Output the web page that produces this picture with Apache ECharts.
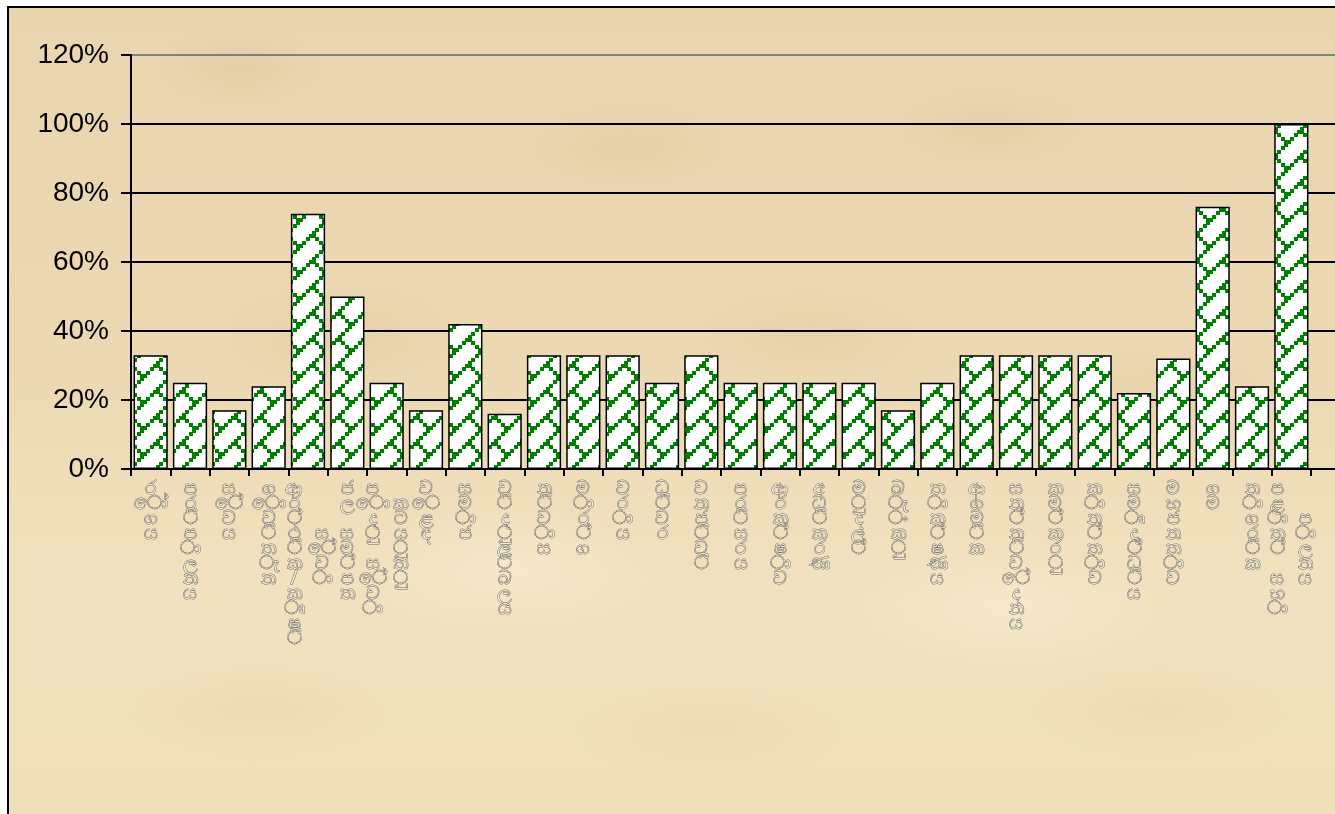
<!DOCTYPE html>
<html><head><meta charset="utf-8">
<script src="https://cdn.jsdelivr.net/npm/echarts@6/dist/echarts.min.js"></script>
<style>
html,body{margin:0;padding:0;width:1335px;height:814px;overflow:hidden;background:#fff;}
#paper{position:absolute;left:7px;top:6px;width:1340px;height:820px;border-left:2px solid #000;border-top:2px solid #000;
background:
 radial-gradient(ellipse 120px 60px at 230px 60px, rgba(200,168,115,0.18), rgba(200,168,115,0) 70%),
 radial-gradient(ellipse 160px 70px at 620px 140px, rgba(200,168,115,0.16), rgba(200,168,115,0) 70%),
 radial-gradient(ellipse 150px 60px at 980px 120px, rgba(200,168,115,0.16), rgba(200,168,115,0) 70%),
 radial-gradient(ellipse 180px 80px at 330px 330px, rgba(205,170,115,0.16), rgba(205,170,115,0) 70%),
 radial-gradient(ellipse 170px 70px at 800px 330px, rgba(205,170,115,0.15), rgba(205,170,115,0) 70%),
 radial-gradient(ellipse 200px 80px at 1150px 390px, rgba(205,170,115,0.14), rgba(205,170,115,0) 70%),
 radial-gradient(ellipse 200px 70px at 250px 700px, rgba(215,185,130,0.16), rgba(215,185,130,0) 70%),
 radial-gradient(ellipse 200px 70px at 700px 720px, rgba(215,185,130,0.14), rgba(215,185,130,0) 70%),
 radial-gradient(ellipse 200px 70px at 1150px 700px, rgba(215,185,130,0.14), rgba(215,185,130,0) 70%),
 radial-gradient(ellipse 220px 90px at 500px 560px, rgba(252,242,215,0.45), rgba(252,242,215,0) 70%),
 radial-gradient(ellipse 220px 90px at 1000px 600px, rgba(252,242,215,0.45), rgba(252,242,215,0) 70%),
 linear-gradient(180deg, #E9D6B0 0%, #ECD9B3 45%, #F1E2BF 72%, #EFDFBA 100%);}
#chart{position:absolute;left:0;top:0;width:1335px;height:814px;}
</style></head><body><div id="paper"></div><div id="chart"></div>
<script>
const categories = [
 'රෝගය','පරිපාලනය','සේවය','ගොවිතැන','ආර්ථික/කෘෂි සේවා','ජල සම්පත','පොදු සේවා කටයුතු','වෙළඳ','සමාජ','විදුලිබලය',
 'නිවාස','මාර්ග','වරාය','ධීවර','වනජීවී','පරිසරය','ආරක්ෂාව','අධිකරණ','මුදල්','බැංකු',
 'තාක්ෂණය','ආගමික','සන්නිවේදනය','කම්කරු','කාන්තාව','සමෘද්ධිය','මහජනතාව','ගම','නාගරික','පළාත් සභා පාලනය'
];
const values = [33,25,17,24,74,50,25,17,42,16, 33,33,33,25,33,25,25,25,25,17, 25,33,33,33,33,22,32,76,24,100];
const yMin = 0, yMax = 120, yStep = 20;

// bar fill pattern (white with green shingle hatch)
function makePattern(){
  const S = 3.25, N = 8, W = S * N;
  const c = document.createElement('canvas'); c.width = W; c.height = W;
  const g = c.getContext('2d');
  g.fillStyle = '#ffffff'; g.fillRect(0,0,W,W);
  g.fillStyle = '#008000';
  const px = [[7,0],[6,1],[5,2],[4,3],[3,4],[2,5],[1,6],[0,7],[0,0],[1,1],[2,2],[3,3]];
  px.forEach(p => g.fillRect(Math.round(p[0]*S), Math.round(p[1]*S), 4, 4));
  return c;
}

const MAXROWS = 11;
function stackLabel(s){
  const words = s.split(' ');
  const cols = [];
  let cur = [];
  words.forEach(w => {
    const ch = Array.from(w);
    if (cur.length === 0) cur = ch.slice();
    else if (cur.length + 1 + ch.length <= MAXROWS) cur = cur.concat([' '], ch);
    else { cols.push(cur); cur = ch.slice(); }
  });
  if (cur.length) cols.push(cur);
  const H = Math.max(...cols.map(c => c.length));
  const rows = [];
  for (let r = 0; r < H; r++){
    let line = '';
    cols.forEach(c => {
      const off = Math.floor((H - c.length)/2);
      const k = r - off;
      const t = (k >= 0 && k < c.length) ? c[k] : ' ';
      line += '{c|' + t + '}';
    });
    rows.push(line);
  }
  return rows.join('\n');
}

const chart = echarts.init(document.getElementById('chart'), null, {renderer:'canvas'});
chart.setOption({
  backgroundColor: 'transparent',
  animation: false,
  grid: [
    {left:131, top:55, width:1250, height:414},
    {left:131, top:55, width:1180, height:414}
  ],
  xAxis: [
    {gridIndex:0, type:'value', min:0, max:1, show:false},
    {gridIndex:1, type:'category', data:categories,
     axisLine:{show:true, lineStyle:{color:'#000', width:2}},
     axisTick:{show:true, length:7, lineStyle:{color:'#000', width:2}},
     axisLabel:{interval:0, margin:12, formatter: stackLabel,
       rich:{c:{width:28, align:'center', fontSize:19, lineHeight:15, fontFamily:'Noto Sans, DejaVu Sans, sans-serif',
         color:'#F4E9CE', textBorderColor:'#6a6a6a', textBorderWidth:1}}}}
  ],
  yAxis: [
    {gridIndex:0, type:'value', min:yMin, max:yMax, interval:yStep,
     axisLine:{show:true, lineStyle:{color:'#000', width:2}},
     axisTick:{show:true, length:10, lineStyle:{color:'#000', width:2}},
     axisLabel:{margin:22, formatter: v => v + '%', color:'#000', fontSize:28, fontFamily:'Liberation Sans, Arial, sans-serif'},
     splitLine:{show:true, lineStyle:{color:['#000','#000','#000','#000','#000','#000','#808080'], width:2}}},
    {gridIndex:1, type:'value', min:yMin, max:yMax, interval:yStep, show:false, splitLine:{show:false}}
  ],
  series: [{
    type:'bar', xAxisIndex:1, yAxisIndex:1, data:values, barCategoryGap:'13%',
    itemStyle:{color:{image: makePattern(), repeat:'repeat'}, borderColor:'#000', borderWidth:1.5}
  }]
});
</script>
</body></html>
